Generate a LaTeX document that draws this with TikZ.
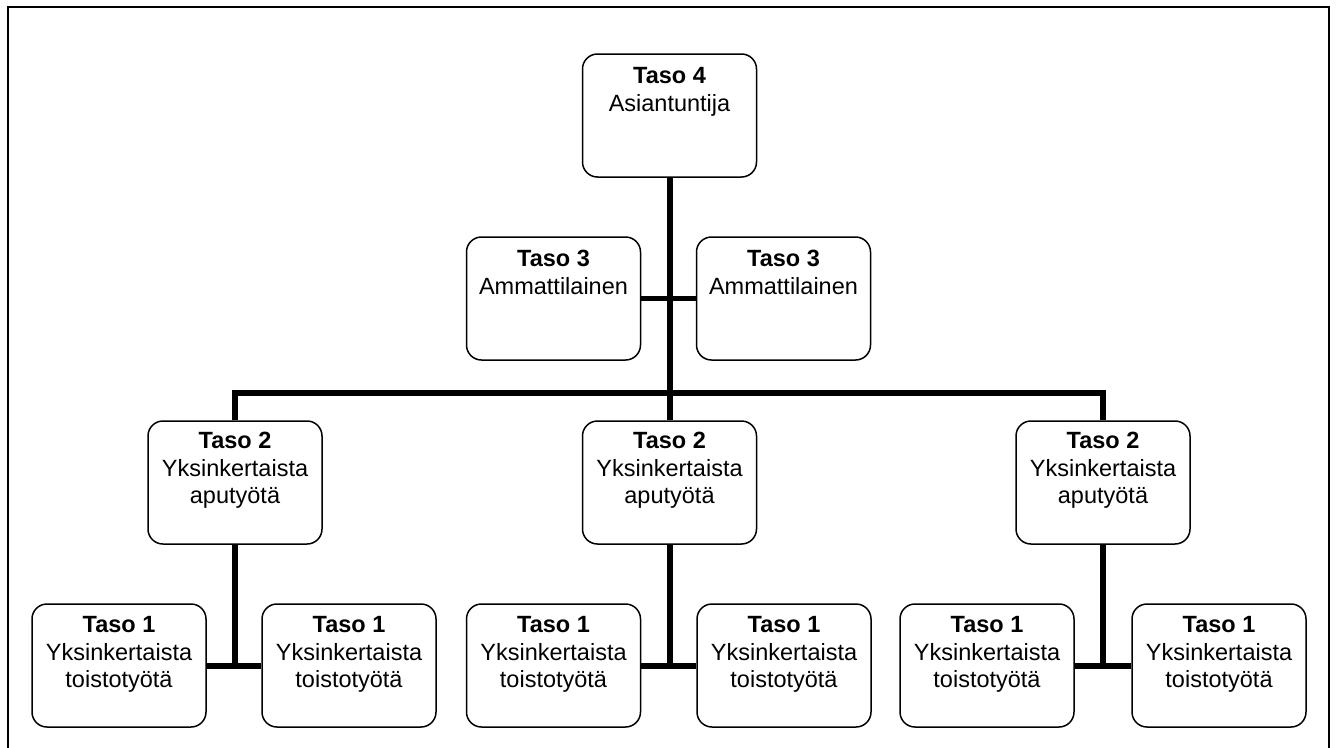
\documentclass[tikz,border=0pt]{standalone}
\usepackage{fontspec}
\setmainfont{Liberation Sans}
\begin{document}
\begin{tikzpicture}[x=1pt,y=-1pt,
  box/.style={draw, line width=1.5pt, rounded corners=15pt, minimum width=174pt, minimum height=123pt, inner sep=0pt},
  txt/.style={anchor=north, inner sep=0pt, align=center, font=\fontsize{23.5}{27.5}\selectfont},
  conn/.style={line width=6pt, line cap=butt},
  frame/.style={line width=2.5pt}]
\useasboundingbox (0,0) rectangle (1336,747);
\draw[frame] (8,748) -- (8,7) -- (1329,7) -- (1329,748);
% boxes
\node[box] (b4) at (669.5,115.5) {};
\node[box] (b3l) at (553.5,298.5) {};
\node[box] (b3r) at (783.5,298.5) {};
\node[box] (b2l) at (235,482.5) {};
\node[box] (b2m) at (669.5,482.5) {};
\node[box] (b2r) at (1103,482.5) {};
\node[box] (b1a) at (119,665.5) {};
\node[box] (b1b) at (349,665.5) {};
\node[box] (b1c) at (553.5,665.5) {};
\node[box] (b1d) at (784,665.5) {};
\node[box] (b1e) at (987,665.5) {};
\node[box] (b1f) at (1219,665.5) {};
% texts
\node[txt] (t4) at ([yshift=-14pt]b4.north) {\textbf{Taso 4}\\Asiantuntija};
\node[txt] (t3l) at ([yshift=-14pt]b3l.north) {\textbf{Taso 3}\\Ammattilainen};
\node[txt] (t3r) at ([yshift=-14pt]b3r.north) {\textbf{Taso 3}\\Ammattilainen};
\foreach \n in {b2l,b2m,b2r}{
  \node[txt] (t\n) at ([yshift=-12pt]\n.north) {\textbf{Taso 2}\\Yksinkertaista\\aputyötä};
}
\foreach \n in {b1a,b1b,b1c,b1d,b1e,b1f}{
  \node[txt] (t\n) at ([yshift=-13pt]\n.north) {\textbf{Taso 1}\\Yksinkertaista\\toistotyötä};
}
% connectors
\coordinate (hub) at (669.5,393);
\draw[conn] (b4.south) -- (hub);
\draw[line width=5pt] (b3l.east) -- (b3r.west);
\draw[conn] (b2l.north) -- (b2l.north |- hub) -- (b2r.north |- hub) -- (b2r.north);
\draw[conn] (hub) -- (b2m.north);
\draw[conn] (b2l.south) -- (b2l.south |- b1a.east);
\draw[conn] (b1a.east) -- (b1b.west);
\draw[conn] (b2m.south) -- (b2m.south |- b1c.east);
\draw[conn] (b1c.east) -- (b1d.west);
\draw[conn] (b2r.south) -- (b2r.south |- b1e.east);
\draw[conn] (b1e.east) -- (b1f.west);
\end{tikzpicture}
\end{document}
